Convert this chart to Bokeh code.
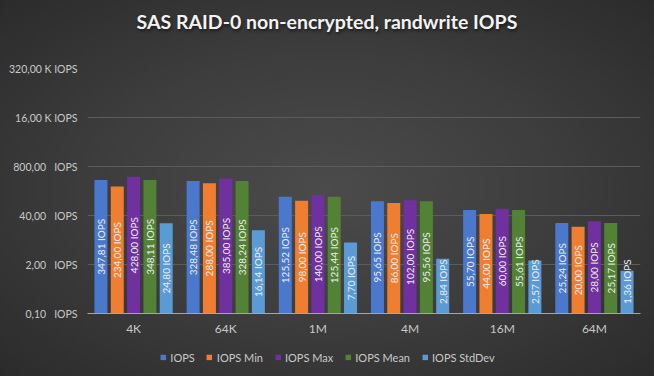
import math
from bokeh.plotting import figure
from bokeh.layouts import column
from bokeh.models import (FactorRange, FixedTicker, Legend, LegendItem,
                          ColumnDataSource, Div)
from bokeh.transform import dodge
from bokeh.core.properties import value
from bokeh.embed import file_html
from bokeh.resources import INLINE

title_text = "SAS RAID-0 non-encrypted, randwrite IOPS"
categories = ["4K", "64K", "1M", "4M", "16M", "64M"]
series_names = ["IOPS", "IOPS Min", "IOPS Max", "IOPS Mean", "IOPS StdDev"]
iops = [347.81, 328.48, 125.52, 95.65, 55.70, 25.24]
iops_min = [234.00, 288.00, 98.00, 86.00, 44.00, 20.00]
iops_max = [428.00, 385.00, 140.00, 102.00, 60.00, 28.00]
iops_mean = [348.11, 328.24, 125.44, 95.56, 55.61, 25.17]
iops_stddev = [24.80, 16.14, 7.70, 2.84, 2.57, 1.36]
y_ticks = [0.1, 2.0, 40.0, 800.0, 16000.0, 320000.0]
y_tick_labels = ["0,10\u00a0\u00a0 IOPS", "2,00\u00a0\u00a0 IOPS", "40,00\u00a0\u00a0 IOPS",
                 "800,00\u00a0\u00a0 IOPS", "16,00 K IOPS", "320,00 K IOPS"]

series_values = [iops, iops_min, iops_max, iops_mean, iops_stddev]
colors = ["#4a78cc", "#ef7e31", "#7030a0", "#538135", "#5b9bd5"]
offsets = [-0.354, -0.177, 0.0, 0.177, 0.354]
bar_width = 0.141
y_min = y_ticks[0]
y_max = y_ticks[-1]

FONT = "Lato"
BG = "#3b3b3b"
BG_GRADIENT = ("radial-gradient(ellipse farthest-corner at 50% 50%, "
               "#4b4b4b 0%, #3d3d3d 50%, #2b2b2b 100%)")
TXT = "#c8c8c8"

# title strip (transparent, page gradient shows through)
title = Div(text=title_text, width=654, height=44,
            styles={"color": "#f2f2f2", "font-family": FONT,
                    "font-weight": "bold", "font-size": "19.5px", "text-align": "center",
                    "line-height": "44px", "text-shadow": "1px 2px 3px #1a1a1a",
                    "margin": "0", "padding": "0"})

# main chart
p = figure(width=654, height=294, title=None,
           x_range=FactorRange(*categories, range_padding=0),
           y_range=(y_min, y_max), y_axis_type="log",
           output_backend="svg", toolbar_location=None,
           min_border_left=87, min_border_right=14,
           min_border_top=24, min_border_bottom=24)
p.frame_align = False
p.background_fill_alpha = 0
p.border_fill_alpha = 0
p.outline_line_color = None

p.yaxis.ticker = FixedTicker(ticks=y_ticks)
p.yaxis.major_label_overrides = {t: l for t, l in zip(y_ticks, y_tick_labels)}
p.yaxis.axis_line_color = None
p.yaxis.major_tick_line_color = None
p.yaxis.minor_tick_line_color = None
p.yaxis.major_tick_out = 0
p.yaxis.minor_tick_out = 0
p.yaxis.major_label_standoff = 10
p.yaxis.major_label_text_color = TXT
p.yaxis.major_label_text_font = FONT
p.yaxis.major_label_text_font_size = "10.5px"

p.xaxis.axis_line_color = "#a6a6a6"
p.xaxis.major_tick_line_color = None
p.xaxis.minor_tick_line_color = None
p.xaxis.major_tick_out = 0
p.xaxis.minor_tick_out = 0
p.xaxis.major_label_standoff = 7
p.xaxis.major_label_text_color = TXT
p.xaxis.major_label_text_font = FONT
p.xaxis.major_label_text_font_size = "12px"

p.xgrid.grid_line_color = None
p.ygrid.grid_line_color = "#5c5c5c"
p.ygrid.grid_line_width = 1

for name, vals, color, off in zip(series_names, series_values, colors, offsets):
    labels = [f"{v:.2f}".replace(".", ",") + " IOPS" for v in vals]
    label_y = [max(math.sqrt(y_min * v), 7 * y_min) for v in vals]
    src = ColumnDataSource(dict(cat=categories, top=vals, label=labels, ly=label_y))
    p.vbar(x=dodge("cat", off, range=p.x_range), top="top", bottom=y_min,
           width=bar_width, source=src, fill_color=color, line_color=None)
    p.text(x=dodge("cat", off, range=p.x_range), y="ly", text="label", source=src,
           angle=math.pi / 2, text_align="center", text_baseline="middle",
           text_font=value(FONT), text_font_size="10px", text_color="#eeeeee")

# legend strip
lg = figure(width=654, height=38, output_backend="svg", toolbar_location=None,
            x_range=(0, 1), y_range=(0, 1), x_axis_location=None, y_axis_location=None,
            min_border=0)
lg.frame_align = False
lg.background_fill_alpha = 0
lg.border_fill_alpha = 0
lg.outline_line_color = None
lg.xgrid.grid_line_color = None
lg.ygrid.grid_line_color = None
nan = float("nan")
items = []
for name, color in zip(series_names, colors):
    r = lg.vbar(x=[nan], top=[nan], width=0.1, fill_color=color, line_color=None)
    items.append(LegendItem(label=name, renderers=[r]))
legend = Legend(items=items, orientation="horizontal", location="center",
                background_fill_alpha=0, border_line_color=None,
                label_text_color=TXT, label_text_font=FONT,
                label_text_font_size="11px", glyph_width=7, glyph_height=7,
                label_height=12, label_standoff=4, spacing=11, padding=2,
                margin=0)
lg.add_layout(legend, "center")

layout = column(title, p, lg, spacing=0, width=654, height=376,
                styles={"background": BG_GRADIENT})
html = file_html(layout, INLINE)
html = html.replace("<head>", "<head><style>html,body{margin:0;padding:0;background:%s;}</style>" % BG, 1)
open("out.html", "w").write(html)
